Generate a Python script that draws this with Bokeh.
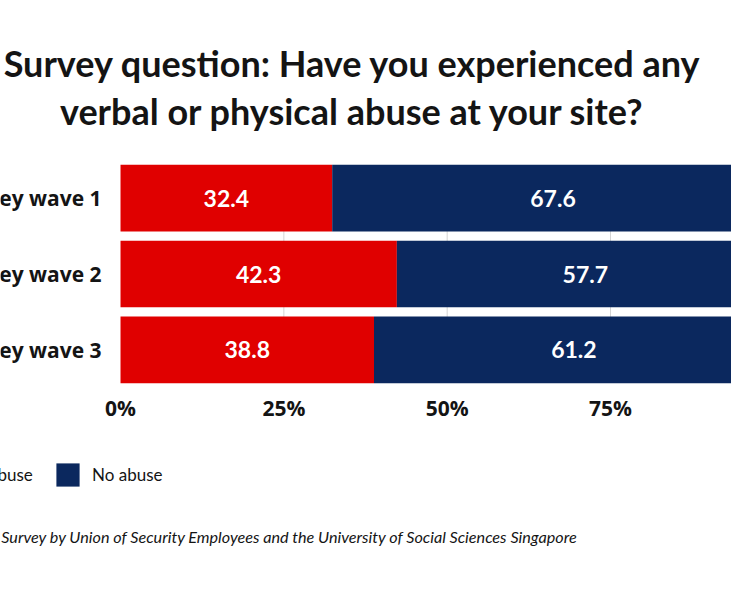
from bokeh.plotting import figure
from bokeh.models import (ColumnDataSource, FactorRange, Range1d, FixedTicker,
                          PrintfTickFormatter, LabelSet, Label, Legend, LegendItem)
from bokeh.core.properties import value
from bokeh.embed import file_html
from bokeh.resources import INLINE

# ---- data ----
waves = ["Survey wave 1", "Survey wave 2", "Survey wave 3"]
abuse = [32.4, 42.3, 38.8]
no_abuse = [67.6, 57.7, 61.2]
series_names = ["Abuse", "No abuse"]
tick_values = [0, 25, 50, 75, 100]
grid_values = [25, 50, 75]
title_lines = ["Survey question: Have you experienced any",
               "verbal or physical abuse at your site?"]
source_note = ("Source: Survey by Union of Security Employees and the "
               "University of Social Sciences Singapore")

RED = "#e00000"
NAVY = "#0b285e"
INK = "#141414"

W, H = 731, 582
FRAME_BOTTOM = 547          # frame covers canvas from top down to here

src = ColumnDataSource(dict(wave=waves, abuse=abuse, no_abuse=no_abuse))

p = figure(width=W, height=H,
           y_range=FactorRange(factors=list(reversed(waves)),
                               range_padding=2.108, range_padding_units="absolute"),
           x_range=Range1d(-18.37, 93.52),
           output_backend="svg", toolbar_location=None, y_axis_location=None,
           min_border_left=0, min_border_right=0,
           min_border_top=0, min_border_bottom=H - FRAME_BOTTOM)
p.outline_line_color = None
p.ygrid.visible = False
p.xgrid.visible = False

# light gridlines, visible in the gaps between bars
grid_src = ColumnDataSource(dict(x=grid_values, y0=[waves[0]] * len(grid_values),
                                 y1=[waves[-1]] * len(grid_values)))
p.segment(x0="x", x1="x", y0="y0", y1="y1", source=grid_src,
          line_color="#d4d4d4", line_width=1)

renderers = p.hbar_stack(["abuse", "no_abuse"], y="wave", height=0.88,
                         color=[RED, NAVY], line_color=None, source=src)

# x axis: tick labels sit just under the bars
ax = p.xaxis[0]
ax.ticker = FixedTicker(ticks=tick_values)
ax.formatter = PrintfTickFormatter(format="%d%%")
ax.axis_line_color = None
ax.major_tick_line_color = None
ax.minor_tick_line_color = None
ax.major_label_text_font = "Open Sans"
ax.major_label_text_font_style = "bold"
ax.major_label_text_font_size = "21px"
ax.major_label_text_color = INK
ax.major_label_standoff = -160

# value labels centred in each segment
mids = [a / 2 for a in abuse] + [a + n / 2 for a, n in zip(abuse, no_abuse)]
lab_src = ColumnDataSource(dict(x=mids, y=waves + waves,
                                text=[f"{v:.1f}" for v in abuse + no_abuse]))
p.add_layout(LabelSet(x="x", y="y", text="text", source=lab_src,
                      text_align="center", text_baseline="middle",
                      text_color="white", text_font=value("Lato"),
                      text_font_style="bold", text_font_size="23px"))

# category labels
cat_src = ColumnDataSource(dict(y=waves, text=waves))
p.add_layout(LabelSet(x=0, y="y", text="text", source=cat_src, x_offset=-19,
                      text_align="right", text_baseline="middle",
                      text_color=INK, text_font=value("Open Sans"),
                      text_font_style="bold", text_font_size="21px"))

# title (screen units measured from frame bottom-left)
for txt, yy in zip(title_lines, [FRAME_BOTTOM - 62, FRAME_BOTTOM - 110]):
    p.add_layout(Label(x=352, y=yy, x_units="screen", y_units="screen", text=txt,
                       text_align="center", text_baseline="middle",
                       text_font="Lato", text_font_style="bold",
                       text_font_size="36px", text_color=INK))

# source note
p.add_layout(Label(x=578, y=FRAME_BOTTOM - 536, x_units="screen", y_units="screen",
                   text=source_note, text_align="right", text_baseline="middle",
                   text_font="Lato", text_font_style="italic",
                   text_font_size="16.2px", text_color=INK))

# legends
for rend, name, lx in zip(renderers, series_names, [-53, 53]):
    leg = Legend(items=[LegendItem(label=name, renderers=[rend])],
                 location=(lx, FRAME_BOTTOM - 489), orientation="horizontal",
                 glyph_width=29, glyph_height=29, label_standoff=10,
                 padding=0, margin=0, spacing=0,
                 border_line_color=None, background_fill_alpha=0,
                 label_text_font="Lato", label_text_font_size="17px",
                 label_text_color=INK)
    p.add_layout(leg, "center")

open("out.html", "w").write(file_html(p, INLINE))
